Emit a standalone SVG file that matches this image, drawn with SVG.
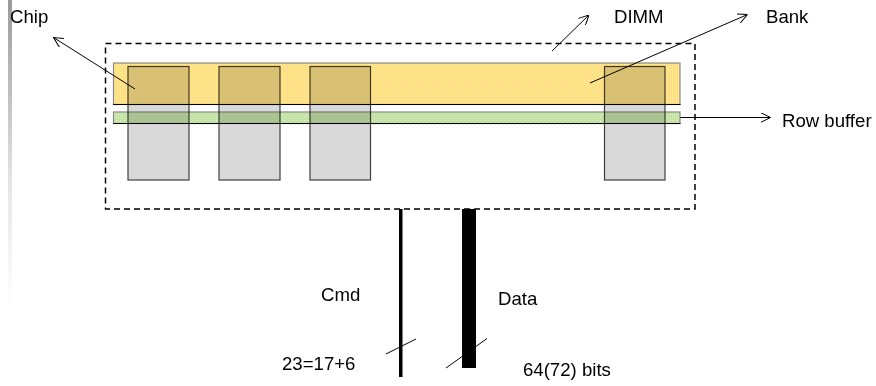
<svg xmlns="http://www.w3.org/2000/svg" width="876" height="386" viewBox="0 0 876 386">
<style>
  text { font-family: "Liberation Sans", Arial, sans-serif; font-size: 18.6px; fill: #000; }
  .chip { fill: #d9d9d9; stroke: #404040; stroke-width: 1.2; }
  .thin { stroke: #000; stroke-width: 1; fill: none; }
  .arrow { stroke: #000; stroke-width: 1; fill: none; marker-end: url(#open); }
</style>
<defs>
  <marker id="open" viewBox="0 0 10 10" refX="10" refY="5" markerWidth="10" markerHeight="10" markerUnits="userSpaceOnUse" orient="auto">
    <path d="M0,0 L10,5 L0,10" fill="none" stroke="#000" stroke-width="1"/>
  </marker>
  <linearGradient id="bar" x1="0" y1="0" x2="0" y2="1">
    <stop offset="0" stop-color="#9a9a9a"/>
    <stop offset="0.6" stop-color="#e6e6e6"/>
    <stop offset="1" stop-color="#ffffff"/>
  </linearGradient>
  <pattern id="yel" width="4" height="4" patternUnits="userSpaceOnUse">
    <rect width="4" height="4" fill="#ffdf7e"/>
    <rect x="0" y="0" width="1" height="1" fill="#fff2c4"/>
    <rect x="2" y="2" width="1" height="1" fill="#fff2c4"/>
  </pattern>
  <pattern id="grn" width="4" height="4" patternUnits="userSpaceOnUse">
    <rect width="4" height="4" fill="#c3e3a2"/>
    <rect x="0" y="0" width="1" height="1" fill="#e8f5d8"/>
    <rect x="2" y="2" width="1" height="1" fill="#e8f5d8"/>
  </pattern>
</defs>

<rect x="8" y="0" width="4" height="310" fill="url(#bar)"/>

<g id="dimm">
  <rect x="105.5" y="43.5" width="589.5" height="165.5" fill="none" stroke="#000" stroke-width="1.5" stroke-dasharray="6 4"/>
</g>

<g id="chips">
  <rect id="chip1" class="chip" x="128" y="66.5" width="61" height="113.5"/>
  <rect id="chip2" class="chip" x="219" y="66.5" width="61" height="113.5"/>
  <rect id="chip3" class="chip" x="310" y="66.5" width="60.5" height="113.5"/>
  <rect id="chip4" class="chip" x="604.5" y="66.5" width="60.5" height="113.5"/>
</g>

<g id="bank">
  <rect x="113.5" y="63" width="566.5" height="41.5" fill="url(#yel)" style="mix-blend-mode:multiply" stroke="#8a8a8a" stroke-width="1.2"/>
  <line class="thin" x1="113" y1="104.5" x2="680.5" y2="104.5"/>
</g>

<g id="rowbuffer">
  <rect x="113.5" y="112" width="566.5" height="11.5" fill="url(#grn)" style="mix-blend-mode:multiply" stroke="#8a8a8a" stroke-width="1.2"/>
  <line class="thin" x1="113" y1="123.5" x2="680.5" y2="123.5"/>
</g>

<g id="buses">
  <rect id="cmd-bus" x="399" y="209" width="3.5" height="168" fill="#000"/>
  <rect id="data-bus" x="462" y="209" width="14" height="159" fill="#000"/>
</g>

<g id="connectors">
  <line class="arrow" x1="135" y1="89" x2="53.5" y2="37.5"/>
  <line class="arrow" x1="552" y1="51" x2="589" y2="15"/>
  <line class="arrow" x1="590" y1="83" x2="747.5" y2="14.5"/>
  <line class="arrow" x1="680" y1="117.5" x2="770.5" y2="117.5"/>
  <line class="thin" x1="386" y1="354" x2="416" y2="339"/>
  <line class="thin" x1="446" y1="368" x2="487" y2="338.5"/>
</g>

<g id="labels">
  <text x="10" y="23">Chip</text>
  <text x="614" y="23">DIMM</text>
  <text x="766" y="23">Bank</text>
  <text x="782" y="127">Row buffer</text>
  <text x="321" y="301">Cmd</text>
  <text x="498" y="305">Data</text>
  <text x="282" y="370">23=17+6</text>
  <text x="523" y="376">64(72) bits</text>
</g>
</svg>
